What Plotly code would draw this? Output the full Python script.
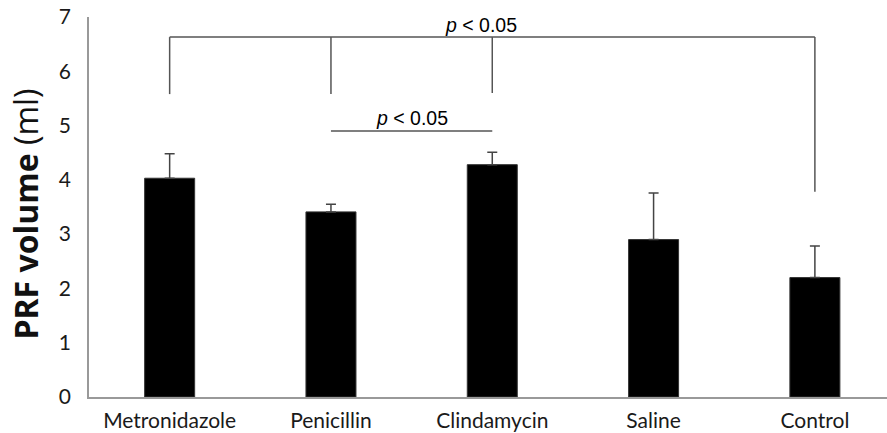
import plotly.graph_objects as go

categories = ["Metronidazole", "Penicillin", "Clindamycin", "Saline", "Control"]
means = [4.03, 3.41, 4.28, 2.90, 2.20]
errors = [0.45, 0.14, 0.23, 0.86, 0.58]
y_ticks = [0, 1, 2, 3, 4, 5, 6, 7]

# significance brackets (data units)
top_bracket_y = 6.63
top_bracket_drops = {"Metronidazole": 5.58, "Penicillin": 5.58, "Clindamycin": 5.6, "Control": 3.78}
low_bracket_y = 4.9
low_bracket_pair = ["Penicillin", "Clindamycin"]
p_label = "<i>p</i> < 0.05"
y_title = "<b>PRF volume</b> (ml)"

idx = {c: i for i, c in enumerate(categories)}
line_col = "#555555"

W, H = 887, 433
L, R, T, B = 89, 0, 17, 36

fig = go.Figure()
fig.add_trace(go.Bar(
    x=list(range(len(categories))), y=means,
    marker=dict(color="black", line=dict(color="#333333", width=1)),
    error_y=dict(type="data", array=errors, arrayminus=[0] * len(errors), visible=True,
                 color="#444444", thickness=1.5, width=5),
    width=0.31,
))

shapes = []
drop_x = [idx[c] for c in top_bracket_drops]
shapes.append(dict(type="line", xref="x", yref="y", x0=min(drop_x), x1=max(drop_x),
                   y0=top_bracket_y, y1=top_bracket_y, line=dict(color=line_col, width=1.5)))
for c, yb in top_bracket_drops.items():
    shapes.append(dict(type="line", xref="x", yref="y", x0=idx[c], x1=idx[c],
                       y0=yb, y1=top_bracket_y, line=dict(color=line_col, width=1.5)))
shapes.append(dict(type="line", xref="x", yref="y", x0=idx[low_bracket_pair[0]], x1=idx[low_bracket_pair[1]],
                   y0=low_bracket_y, y1=low_bracket_y, line=dict(color=line_col, width=1.5)))

pfont = dict(family="Liberation Sans, Arial", size=19.5, color="black")
annotations = [
    dict(x=idx["Clindamycin"] - 0.07, y=top_bracket_y, xref="x", yref="y",
         text=p_label, showarrow=False, yanchor="bottom", yshift=-1, font=pfont),
    dict(x=(idx[low_bracket_pair[0]] + idx[low_bracket_pair[1]]) / 2, y=low_bracket_y, xref="x", yref="y",
         text=p_label, showarrow=False, yanchor="bottom", yshift=0, font=pfont),
    dict(x=(26 - L) / (W - L - R), y=0.48, xref="paper", yref="paper", text=y_title,
         textangle=-90, showarrow=False, xanchor="center", yanchor="middle",
         font=dict(family="Open Sans", size=32, color="#111111")),
]

fig.update_layout(
    width=W, height=H,
    margin=dict(l=L, r=R, t=T, b=B),
    plot_bgcolor="white", paper_bgcolor="white",
    showlegend=False,
    shapes=shapes, annotations=annotations,
    font=dict(family="Lato", color="#111111"),
    xaxis=dict(
        tickmode="array", tickvals=list(range(len(categories))), ticktext=categories,
        range=[-0.5, 4.447], showline=True, linecolor="#999999", linewidth=1.5,
        ticks="", showgrid=False, zeroline=False, automargin=False,
        ticklabelstandoff=4,
        tickfont=dict(family="Lato", size=21, color="#1a1a1a"),
    ),
    yaxis=dict(
        range=[0, 7], tickvals=y_ticks, showline=True, linecolor="#999999", linewidth=1.5,
        ticks="", showgrid=False, zeroline=False, automargin=False,
        ticklabelstandoff=12,
        tickfont=dict(family="Lato", size=21, color="#1a1a1a"),
    ),
)

fig.write_html("out.html", config={"displayModeBar": False},
               post_script="document.body.style.margin='0';document.body.style.overflow='hidden';")
